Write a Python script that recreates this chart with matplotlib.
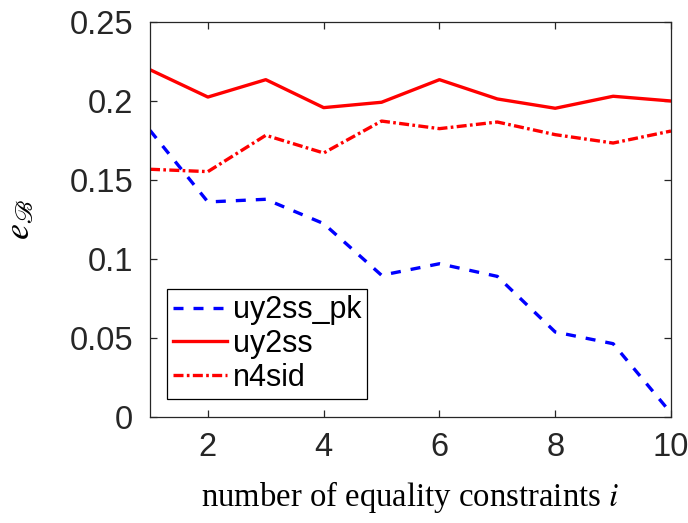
import matplotlib
matplotlib.use("Agg")
import matplotlib.pyplot as plt

plt.rcParams.update(
    {
        "font.family": "Liberation Sans",
        "mathtext.fontset": "stix",
    }
)

# data
n_constraints = [1, 2, 3, 4, 5, 6, 7, 8, 9, 10]
e_uy2ss_pk = [0.1814, 0.1361, 0.1378, 0.1224, 0.0897, 0.0970, 0.0890, 0.0538, 0.0464, 0.0025]
e_uy2ss = [0.2198, 0.2025, 0.2135, 0.1958, 0.1992, 0.2135, 0.2013, 0.1954, 0.2030, 0.2000]
e_n4sid = [0.1568, 0.1553, 0.1783, 0.1671, 0.1873, 0.1825, 0.1867, 0.1787, 0.1734, 0.1810]

xticks = [2, 4, 6, 8, 10]
yticks = [0, 0.05, 0.1, 0.15, 0.2, 0.25]
yticklabels = ["0", "0.05", "0.1", "0.15", "0.2", "0.25"]

AX_COL = "#262626"
LW = 2.4

fig = plt.figure(figsize=(6.88, 5.23), dpi=100)
ax = fig.add_axes([150 / 688, 106 / 523, 521 / 688, 395 / 523])

ax.plot(n_constraints, e_uy2ss_pk, color="blue", linewidth=LW,
        linestyle=(0, (3.0, 3.0)), label="uy2ss_pk")
ax.plot(n_constraints, e_uy2ss, color="red", linewidth=LW,
        linestyle="-", label="uy2ss")
ax.plot(n_constraints, e_n4sid, color="red", linewidth=LW,
        linestyle=(0, (3.0, 1.0, 0.8, 1.0)), label="n4sid")

ax.set_xlim(1, 10)
ax.set_ylim(0, 0.25)
ax.set_xticks(xticks)
ax.set_yticks(yticks, yticklabels)

for sp in ax.spines.values():
    sp.set_color(AX_COL)
    sp.set_linewidth(0.9)
ax.tick_params(direction="in", top=True, right=True, length=5, width=0.9,
               color=AX_COL, labelcolor=AX_COL, labelsize=23.5)
ax.tick_params(axis="y", pad=12)
ax.tick_params(axis="x", pad=11)

ax.set_xlabel("number of equality constraints $i$", fontsize=23.6,
              family="Liberation Serif", labelpad=11)
ax.set_ylabel(r"$e_{\mathscr{B}}$", fontsize=26, labelpad=23)

leg = ax.legend(loc="lower left", bbox_to_anchor=(0.033, 0.046),
                borderaxespad=0, fancybox=False, edgecolor="black",
                framealpha=1, fontsize=22, handlelength=1.75,
                handletextpad=0.2, borderpad=0.2, labelspacing=0.12)
leg.get_frame().set_linewidth(0.9)

fig.savefig("out.png", dpi=100)
